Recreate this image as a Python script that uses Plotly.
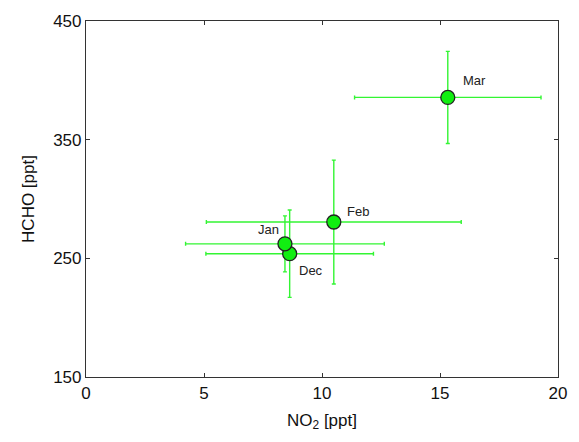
import plotly.graph_objects as go

months = ["Dec", "Jan", "Feb", "Mar"]
no2 = [8.63, 8.43, 10.5, 15.33]
no2_err = [3.55, 4.21, 5.4, 3.95]
hcho = [253.9, 262.2, 280.6, 385.6]
hcho_err = [36.8, 23.6, 52.2, 38.8]
label_dx = [21, -16, 24, 27]
label_dy = [17, -14, -11, -17]

x_ticks = [0, 5, 10, 15, 20]
y_ticks = [150, 250, 350, 450]

font = "Liberation Sans, Arial, sans-serif"
green = "#11ee11"
bar_green = "#33f533"

fig = go.Figure()
fig.add_trace(go.Scatter(
    x=no2, y=hcho, mode="markers",
    error_x=dict(type="data", array=no2_err, color=bar_green, thickness=1.4, width=2),
    error_y=dict(type="data", array=hcho_err, color=bar_green, thickness=1.4, width=2),
    marker=dict(size=14, color=green, line=dict(color="#222222", width=1.3)),
    showlegend=False, hoverinfo="skip"))

for m, x, y, dx, dy in zip(months, no2, hcho, label_dx, label_dy):
    fig.add_annotation(x=x, y=y, text=m, showarrow=False, xshift=dx, yshift=-dy,
                       font=dict(family=font, size=13, color="#222222"))

axis_common = dict(showgrid=False, zeroline=False, showline=True, linecolor="#333333",
                   linewidth=1.2, mirror="ticks", ticks="inside", ticklen=4,
                   tickcolor="#333333", tickfont=dict(family=font, size=17, color="#111111"))

fig.update_xaxes(range=[0, 20], tickvals=x_ticks,
                 title=dict(text="NO<sub>2</sub> [ppt]", font=dict(family=font, size=17, color="#111111"), standoff=12),
                 **axis_common)
fig.update_yaxes(range=[150, 450], tickvals=y_ticks,
                 title=dict(text="HCHO [ppt]", font=dict(family=font, size=17, color="#111111"), standoff=14),
                 **axis_common)

fig.update_layout(width=579, height=442, margin=dict(l=86, r=21, t=17, b=65),
                  plot_bgcolor="white", paper_bgcolor="white")

fig.write_html("out.html")
